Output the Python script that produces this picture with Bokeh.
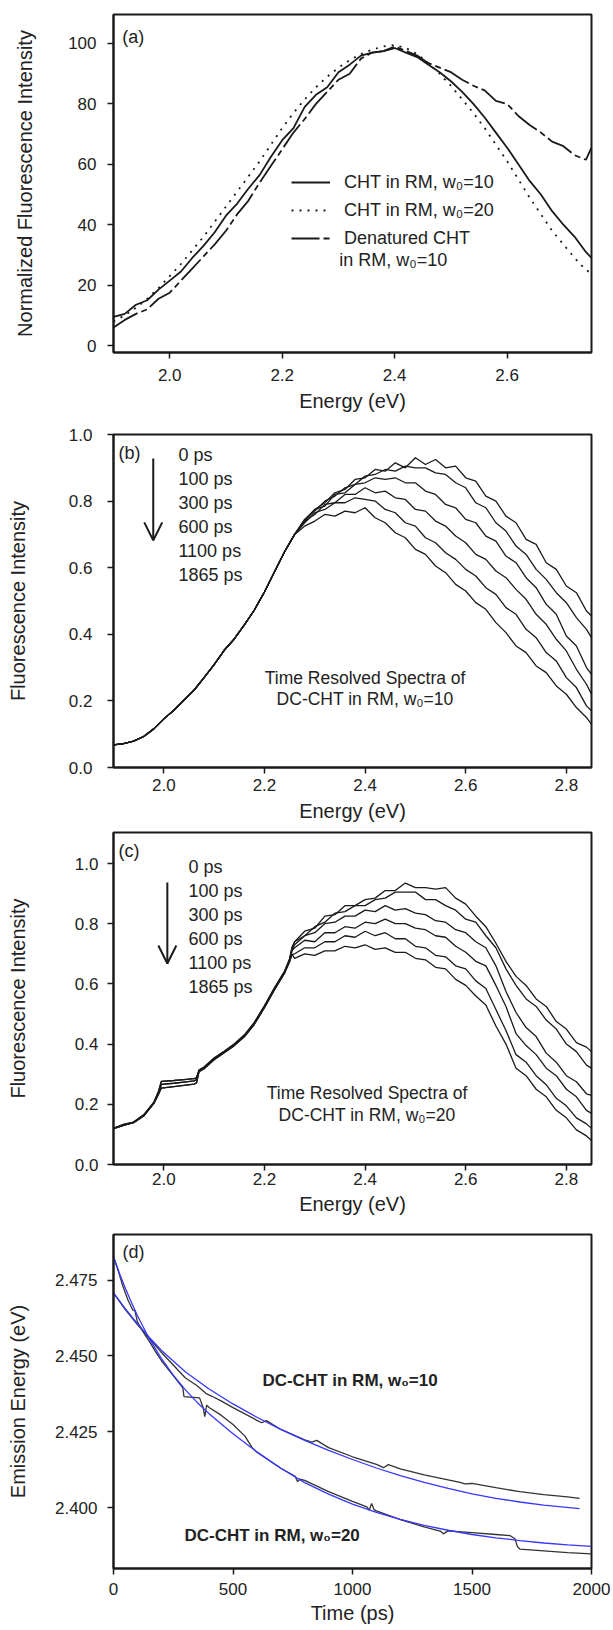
from bokeh.plotting import figure
from bokeh.layouts import column
from bokeh.models import (Range1d, FixedTicker, PrintfTickFormatter, Label, Arrow,
                          OpenHead, Legend, LegendItem)
from bokeh.embed import file_html
from bokeh.resources import INLINE

FONT = "Liberation Sans"
INK = "#1a1a1a"
TXT = "#222222"
BLUE = "#3636ff"

# ---------------- panel (a) ----------------
energy_a = [1.90, 1.92, 1.94, 1.96, 1.98, 2.00, 2.02, 2.04, 2.06, 2.08, 2.10, 2.12, 2.14,
            2.16, 2.18, 2.20, 2.22, 2.24, 2.26, 2.28, 2.30, 2.32, 2.34, 2.36, 2.38, 2.40,
            2.42, 2.44, 2.46, 2.48, 2.50, 2.52, 2.54, 2.56, 2.58, 2.60, 2.62, 2.64, 2.66,
            2.68, 2.70, 2.72, 2.74, 2.75]
cht_w10 = [9.5, 10.5, 13.5, 15, 18.5, 21.5, 24.5, 29, 33, 37.5, 43, 47, 52, 56.5, 62.5,
           68, 72, 79, 83, 85.5, 90.5, 93, 96, 97, 97.5, 98.5, 97, 95.5, 93, 90.5, 87.5,
           84, 80, 75.5, 70.5, 65.5, 60, 54.5, 50, 44.5, 40, 36, 31, 29]
cht_w20 = [8, 10, 12.5, 15.5, 19, 23, 27, 31.5, 36, 41, 46, 51, 56, 61, 66.5, 72, 77,
           81.5, 85.5, 89, 92, 94.5, 96.5, 98, 99, 99.5, 98.5, 96.5, 93.5, 90, 86, 81.5,
           77, 72, 66.5, 61, 55, 49, 43.5, 38, 33.5, 29, 25, 24]
denatured_w10 = [6, 8.5, 10.5, 12, 15.5, 17.5, 21.5, 25.5, 29.5, 33.5, 38, 43.5, 48, 54,
                 59.5, 65, 70.5, 75, 80, 84, 88, 90, 95, 97, 97.5, 99, 97.5, 96, 93.5, 92,
                 90.5, 88, 86, 84.5, 81, 80, 76, 73, 70.5, 67.5, 66, 63, 61.5, 65.5]
legend_a = ["CHT in RM, w\u2080=10", "CHT in RM, w\u2080=20", "Denatured CHT", "in RM, w\u2080=10"]
xticks_a = [2.0, 2.2, 2.4, 2.6]
yticks_a = [0, 20, 40, 60, 80, 100]

# ---------------- panels (b), (c) ----------------
delay_labels = ["0 ps", "100 ps", "300 ps", "600 ps", "1100 ps", "1865 ps"]
xticks_bc = [2.0, 2.2, 2.4, 2.6, 2.8]
yticks_bc = [0.0, 0.2, 0.4, 0.6, 0.8, 1.0]

energy_low_b = [1.90, 1.92, 1.94, 1.96, 1.98, 2.00, 2.02, 2.04, 2.06, 2.08, 2.10, 2.12,
                2.14, 2.16, 2.18, 2.20, 2.22, 2.24, 2.26]
intensity_low_b = [0.068, 0.072, 0.079, 0.093, 0.116, 0.146, 0.172, 0.202, 0.232, 0.270,
                   0.309, 0.352, 0.386, 0.428, 0.473, 0.527, 0.588, 0.648, 0.700]
energy_high_b = [2.28, 2.30, 2.32, 2.34, 2.36, 2.38, 2.40, 2.42, 2.44, 2.46, 2.48, 2.50,
                 2.52, 2.54, 2.56, 2.58, 2.60, 2.62, 2.64, 2.66, 2.68, 2.70, 2.72, 2.74,
                 2.76, 2.78, 2.80, 2.82, 2.84, 2.85]
b_0ps = [.745, .775, .795, .825, .835, .865, .87, .895, .89, .915, .90, .93, .91, .925, .90,
         .905, .87, .86, .815, .80, .755, .735, .685, .67, .615, .595, .545, .525, .47, .455]
b_100ps = [.745, .77, .80, .815, .84, .85, .875, .88, .895, .89, .905, .90, .90, .885, .88,
           .855, .84, .795, .78, .735, .71, .665, .64, .595, .565, .525, .495, .45, .415, .39]
b_300ps = [.74, .775, .785, .82, .825, .85, .855, .87, .865, .87, .855, .855, .83, .82, .79,
           .78, .745, .735, .695, .68, .635, .615, .57, .54, .49, .46, .395, .365, .30, .28]
b_600ps = [.74, .76, .79, .795, .82, .82, .84, .825, .83, .81, .805, .775, .77, .74, .725,
           .695, .675, .64, .625, .59, .57, .535, .505, .46, .43, .385, .35, .295, .25, .22]
b_1100ps = [.735, .765, .775, .795, .795, .81, .805, .80, .775, .765, .735, .725, .69, .675,
            .645, .625, .595, .575, .54, .52, .48, .46, .415, .39, .345, .32, .27, .24, .185, .17]
b_1865ps = [.725, .74, .76, .755, .77, .765, .78, .75, .735, .705, .69, .655, .64, .605,
            .585, .55, .53, .495, .475, .435, .405, .365, .345, .305, .285, .245, .22, .18, .15, .13]

energy_low_c = [1.90, 1.92, 1.94, 1.96, 1.98, 1.99, 1.995, 2.02, 2.04, 2.06, 2.065, 2.07,
                2.08, 2.10, 2.12, 2.14, 2.16, 2.18, 2.20, 2.22, 2.24, 2.25, 2.255]
intensity_low_c_top = [0.120, 0.133, 0.141, 0.165, 0.206, 0.245, 0.276, 0.279, 0.282, 0.285,
                       0.288, 0.314, 0.324, 0.354, 0.376, 0.400, 0.430, 0.472, 0.527, 0.587,
                       0.642, 0.683, 0.722]
intensity_low_c_mid = [0.120, 0.131, 0.140, 0.163, 0.204, 0.240, 0.266, 0.270, 0.274, 0.278,
                       0.282, 0.311, 0.321, 0.351, 0.373, 0.397, 0.427, 0.469, 0.524, 0.584,
                       0.639, 0.679, 0.712]
intensity_low_c_bot = [0.119, 0.130, 0.139, 0.161, 0.202, 0.235, 0.254, 0.259, 0.263, 0.267,
                       0.271, 0.308, 0.318, 0.348, 0.371, 0.395, 0.424, 0.466, 0.521, 0.581,
                       0.636, 0.674, 0.698]
energy_high_c = [2.26, 2.28, 2.30, 2.32, 2.34, 2.36, 2.38, 2.40, 2.42, 2.44, 2.46, 2.48,
                 2.50, 2.52, 2.54, 2.56, 2.58, 2.60, 2.62, 2.64, 2.66, 2.68, 2.70, 2.72,
                 2.74, 2.76, 2.78, 2.80, 2.82, 2.84, 2.85]
c_0ps = [.74, .775, .785, .825, .83, .86, .86, .88, .885, .91, .91, .935, .92, .92, .915,
         .92, .885, .865, .825, .79, .735, .675, .625, .595, .55, .525, .475, .45, .405, .39, .375]
c_100ps = [.74, .76, .79, .805, .835, .84, .86, .86, .88, .885, .905, .905, .905, .88, .88,
           .86, .845, .815, .805, .76, .72, .65, .595, .55, .525, .48, .45, .40, .375, .33, .32]
c_300ps = [.73, .76, .77, .80, .805, .825, .825, .845, .84, .86, .845, .85, .835, .83, .81,
           .805, .78, .77, .74, .72, .66, .575, .505, .455, .425, .37, .34, .295, .275, .235, .23]
c_600ps = [.72, .745, .74, .77, .77, .79, .785, .805, .80, .815, .80, .80, .785, .78, .76,
           .755, .725, .705, .675, .66, .595, .525, .435, .395, .365, .32, .295, .25, .225, .18, .17]
c_1100ps = [.70, .72, .72, .74, .74, .76, .755, .775, .76, .77, .75, .75, .725, .72, .695,
            .69, .66, .65, .61, .585, .515, .445, .365, .34, .295, .265, .22, .195, .155, .135, .12]
c_1865ps = [.685, .70, .695, .71, .71, .725, .72, .73, .715, .72, .705, .705, .685, .68, .655,
            .65, .615, .595, .56, .53, .46, .40, .32, .295, .25, .225, .18, .155, .115, .095, .08]

# ---------------- panel (d) ----------------
time_w10 = [0, 25, 50, 75, 100, 150, 200, 250, 300, 350, 390, 410, 450, 500, 600, 620, 640,
            700, 800, 830, 850, 900, 1000, 1100, 1130, 1150, 1200, 1300, 1400, 1450, 1470,
            1500, 1600, 1700, 1800, 1900, 1950]
emission_w10 = [2.4708, 2.4680, 2.4652, 2.4628, 2.4603, 2.4558, 2.4512, 2.4470, 2.4428,
                2.4402, 2.4375, 2.4368, 2.4352, 2.4330, 2.4288, 2.4280, 2.4287, 2.4258,
                2.4224, 2.4216, 2.4222, 2.4198, 2.4168, 2.4143, 2.4132, 2.4142, 2.4128,
                2.4108, 2.4092, 2.4084, 2.4079, 2.4080, 2.4066, 2.4053, 2.4043, 2.4036, 2.4031]
fit_time_w10 = [0, 50, 100, 150, 200, 300, 400, 500, 600, 700, 800, 900, 1000, 1100, 1200,
                1300, 1400, 1500, 1600, 1700, 1800, 1950]
fit_w10 = [2.4708, 2.4655, 2.4606, 2.4561, 2.4519, 2.4448, 2.4391, 2.4342, 2.4298, 2.4258,
           2.4222, 2.4189, 2.4159, 2.4131, 2.4106, 2.4084, 2.4064, 2.4046, 2.4031, 2.4019,
           2.4009, 2.3997]
time_w20 = [0, 20, 40, 60, 80, 90, 100, 125, 150, 175, 200, 250, 290, 295, 360, 375, 382,
            390, 400, 450, 500, 550, 580, 600, 700, 760, 770, 780, 800, 900, 1000, 1060,
            1070, 1080, 1090, 1100, 1200, 1300, 1370, 1380, 1400, 1500, 1600, 1660, 1680,
            1690, 1700, 1800, 1900, 2000]
emission_w20 = [2.4825, 2.4780, 2.4728, 2.4685, 2.4652, 2.4648, 2.4612, 2.4578, 2.4548,
                2.4515, 2.4485, 2.4435, 2.4395, 2.4366, 2.4362, 2.4330, 2.4300, 2.4338,
                2.4330, 2.4305, 2.4274, 2.4236, 2.4198, 2.4183, 2.4130, 2.4104, 2.4086,
                2.4094, 2.4090, 2.4053, 2.4021, 2.4003, 2.3992, 2.4014, 2.3994, 2.3990,
                2.3961, 2.3937, 2.3922, 2.3914, 2.3924, 2.3918, 2.3912, 2.3908, 2.3898,
                2.3872, 2.3864, 2.3858, 2.3852, 2.3848]
fit_time_w20 = [0, 25, 50, 75, 100, 150, 200, 250, 300, 350, 400, 500, 600, 700, 800, 900,
                1000, 1100, 1200, 1300, 1400, 1500, 1600, 1700, 1800, 1900, 2000]
fit_w20 = [2.4828, 2.4772, 2.4722, 2.4676, 2.4633, 2.4556, 2.4492, 2.4437, 2.4389, 2.4347,
           2.4310, 2.4244, 2.4184, 2.4130, 2.4083, 2.4045, 2.4012, 2.3985, 2.3962, 2.3942,
           2.3926, 2.3912, 2.3901, 2.3892, 2.3884, 2.3878, 2.3873]
xticks_d = [0, 500, 1000, 1500, 2000]
yticks_d = [2.400, 2.425, 2.450, 2.475]
labels_d = ["DC-CHT in RM, w\u2080=10", "DC-CHT in RM, w\u2080=20"]


def base_fig(height, xr, yr, left, right, top, bottom, xticks, yticks, xfmt, yfmt,
             xlabel, ylabel, xt_std, yt_std, xl_std, yl_std):
    p = figure(width=613, height=height, x_range=Range1d(*xr), y_range=Range1d(*yr),
               output_backend="svg", toolbar_location=None,
               min_border_left=left, min_border_right=right, min_border_top=top,
               min_border_bottom=bottom, background_fill_color="white",
               border_fill_color="white")
    p.xgrid.visible = False
    p.ygrid.visible = False
    p.outline_line_color = INK
    p.outline_line_width = 2
    p.outline_line_alpha = 1.0
    p.xaxis.ticker = FixedTicker(ticks=xticks)
    p.yaxis.ticker = FixedTicker(ticks=yticks)
    p.xaxis.formatter = PrintfTickFormatter(format=xfmt)
    p.yaxis.formatter = PrintfTickFormatter(format=yfmt)
    p.xaxis.axis_label = xlabel
    p.yaxis.axis_label = ylabel
    for ax in (p.xaxis[0], p.yaxis[0]):
        ax.axis_line_color = INK
        ax.axis_line_width = 2
        ax.major_tick_line_color = INK
        ax.major_tick_line_width = 1.5
        ax.major_tick_out = 6
        ax.major_tick_in = 0
        ax.minor_tick_line_color = None
        ax.major_label_text_font = FONT
        ax.major_label_text_font_size = "17px"
        ax.major_label_text_color = TXT
        ax.axis_label_text_font = FONT
        ax.axis_label_text_font_size = "20px"
        ax.axis_label_text_font_style = "normal"
        ax.axis_label_text_color = TXT
    p.xaxis.major_label_standoff = xt_std
    p.yaxis.major_label_standoff = yt_std
    p.xaxis.axis_label_standoff = xl_std
    p.yaxis.axis_label_standoff = yl_std
    return p


def add_text(p, x, y, text, size="18px", align="left", style="normal"):
    p.add_layout(Label(x=x, y=y, text=text, text_font=FONT, text_font_size=size,
                       text_color=TXT, text_align=align, text_baseline="middle",
                       text_font_style=style))


# ---- (a) ----
pa = base_fig(420, (1.9, 2.75), (-2.3, 109.6), 108, 16, 14, 68, xticks_a, yticks_a,
              "%.1f", "%d", "Energy (eV)", "Normalized Fluorescence Intensity",
              10, 11, 6, 29)
ra1 = pa.line(energy_a, cht_w10, line_color=INK, line_width=1.8)
ra2 = pa.line(energy_a, cht_w20, line_color=INK, line_width=1.8, line_dash="2 6")
ra3 = pa.line(energy_a, denatured_w10, line_color=INK, line_width=1.8, line_dash="28 4 6 4")
leg = Legend(items=[LegendItem(label=legend_a[0], renderers=[ra1]),
                    LegendItem(label=legend_a[1], renderers=[ra2]),
                    LegendItem(label=legend_a[2], renderers=[ra3])],
             location=(178, 102), orientation="vertical", padding=0, margin=0,
             spacing=4, glyph_width=39, glyph_height=24, label_height=24,
             label_standoff=14, label_text_font=FONT, label_text_font_size="18px",
             label_text_color=TXT, border_line_color=None, background_fill_alpha=0)
pa.add_layout(leg)
add_text(pa, 2.3015, 28.2, legend_a[3])
add_text(pa, 1.9156, 102.0, "(a)")

# ---- (b) ----
pb = base_fig(406, (1.9, 2.85), (0.0, 1.0), 113, 22, 14, 59, xticks_bc, yticks_bc,
              "%.1f", "%.1f", "Energy (eV)", "Fluorescence Intensity",
              5, 15, 6, 37)
for ys in (b_0ps, b_100ps, b_300ps, b_600ps, b_1100ps, b_1865ps):
    pb.line(energy_low_b + energy_high_b, intensity_low_b + ys, line_color=INK, line_width=1.3)
add_text(pb, 1.91, 0.943, "(b)")
pb.add_layout(Arrow(end=OpenHead(size=18, line_width=2, line_color=INK),
                    x_start=1.979, y_start=0.928, x_end=1.979, y_end=0.682,
                    line_width=2, line_color=INK))
for i, lab in enumerate(delay_labels):
    add_text(pb, 2.029, 0.937 - i * 0.0715, lab)
add_text(pb, 2.40, 0.270, "Time Resolved Spectra of", size="17.5px", align="center")
add_text(pb, 2.40, 0.207, "DC-CHT in RM, w\u2080=10", size="17.5px", align="center")

# ---- (c) ----
pc = base_fig(398, (1.9, 2.85), (0.0, 1.103), 113, 22, 6, 60, xticks_bc, yticks_bc,
              "%.1f", "%.1f", "Energy (eV)", "Fluorescence Intensity",
              2, 9, 5, 43)
lows_c = (intensity_low_c_top, intensity_low_c_top, intensity_low_c_mid,
          intensity_low_c_mid, intensity_low_c_bot, intensity_low_c_bot)
for low, ys in zip(lows_c, (c_0ps, c_100ps, c_300ps, c_600ps, c_1100ps, c_1865ps)):
    pc.line(energy_low_c + energy_high_c, low + ys, line_color=INK, line_width=1.3)
add_text(pc, 1.91, 1.043, "(c)")
pc.add_layout(Arrow(end=OpenHead(size=18, line_width=2, line_color=INK),
                    x_start=2.007, y_start=0.937, x_end=2.007, y_end=0.668,
                    line_width=2, line_color=INK))
for i, lab in enumerate(delay_labels):
    add_text(pc, 2.049, 0.987 - i * 0.0797, lab)
add_text(pc, 2.404, 0.239, "Time Resolved Spectra of", size="17.5px", align="center")
add_text(pc, 2.404, 0.166, "DC-CHT in RM, w\u2080=20", size="17.5px", align="center")

# ---- (d) ----
pd_ = base_fig(406, (0, 2000), (2.38, 2.49), 113, 22, 10, 62, xticks_d, yticks_d,
               "%d", "%.3f", "Time (ps)", "Emission Energy (eV)",
               8, 10, 4, 23)
pd_.line(time_w10, emission_w10, line_color="#333333", line_width=1.3)
pd_.line(time_w20, emission_w20, line_color="#333333", line_width=1.3)
pd_.line(fit_time_w10, fit_w10, line_color=BLUE, line_width=1.3)
pd_.line(fit_time_w20, fit_w20, line_color=BLUE, line_width=1.3)
add_text(pd_, 38, 2.4841, "(d)")
add_text(pd_, 623, 2.4419, labels_d[0], size="17px", style="bold")
add_text(pd_, 297, 2.3909, labels_d[1], size="17px", style="bold")

layout = column(pa, pb, pc, pd_, spacing=0)
open("out.html", "w").write(file_html(layout, INLINE))
